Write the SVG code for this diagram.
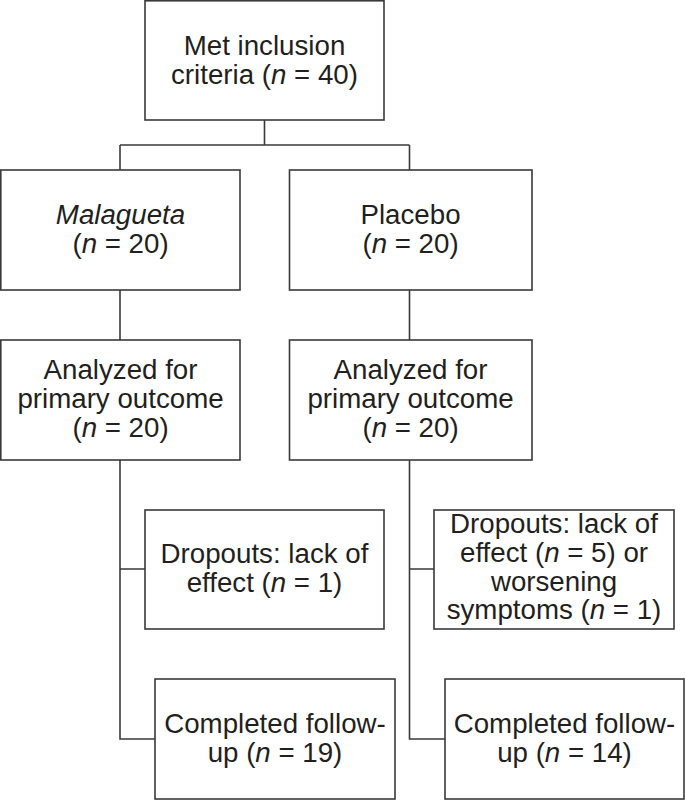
<svg xmlns="http://www.w3.org/2000/svg" width="685" height="800" viewBox="0 0 685 800">
<style>
.box{fill:#fff;stroke:#3a3a3a;stroke-width:1.6}
.ln{fill:none;stroke:#3a3a3a;stroke-width:1.6}
text{font-family:"Liberation Sans",Arial,sans-serif;font-size:27.7px;fill:#231f20;text-anchor:middle}
.i{font-style:italic}
</style>
<rect width="685" height="800" fill="#fff"/>
<g id="connectors">
<path class="ln" d="M264.5 120V145M120 145H409.5M120 145V170M409.5 145V170"/>
<path class="ln" d="M120 290V340M409.5 290V340"/>
<path class="ln" d="M120 460V739H155M120 569H145"/>
<path class="ln" d="M409.5 460V739H445M409.5 569H434"/>
</g>
<g id="n1"><rect class="box" x="145" y="0.8" width="239" height="119.2"/>
<text x="264.5" y="55">Met inclusion</text><text x="264.5" y="84">criteria (<tspan class="i">n</tspan> = 40)</text></g>
<g id="n2"><rect class="box" x="0.8" y="170" width="239.2" height="120"/>
<text x="120.5" y="224" class="i">Malagueta</text><text x="120.5" y="253">(<tspan class="i">n</tspan> = 20)</text></g>
<g id="n3"><rect class="box" x="289.5" y="170" width="242.5" height="120"/>
<text x="410.5" y="224">Placebo</text><text x="410.5" y="253">(<tspan class="i">n</tspan> = 20)</text></g>
<g id="n4"><rect class="box" x="0.8" y="340" width="239.2" height="120"/>
<text x="120.5" y="379">Analyzed for</text><text x="120.5" y="408">primary outcome</text><text x="120.5" y="437">(<tspan class="i">n</tspan> = 20)</text></g>
<g id="n5"><rect class="box" x="289.5" y="340" width="242.5" height="120"/>
<text x="410.5" y="379">Analyzed for</text><text x="410.5" y="408">primary outcome</text><text x="410.5" y="437">(<tspan class="i">n</tspan> = 20)</text></g>
<g id="n6"><rect class="box" x="145" y="510" width="239" height="119"/>
<text x="264.5" y="563">Dropouts: lack of</text><text x="264.5" y="592">effect (<tspan class="i">n</tspan> = 1)</text></g>
<g id="n7"><rect class="box" x="434" y="510" width="240" height="119"/>
<text x="554" y="533">Dropouts: lack of</text><text x="554" y="562">effect (<tspan class="i">n</tspan> = 5) or</text><text x="554" y="591">worsening</text><text x="554" y="619">symptoms (<tspan class="i">n</tspan> = 1)</text></g>
<g id="n8"><rect class="box" x="155" y="679" width="240" height="120"/>
<text x="275" y="733">Completed follow-</text><text x="275" y="762">up (<tspan class="i">n</tspan> = 19)</text></g>
<g id="n9"><rect class="box" x="445" y="679" width="239" height="120"/>
<text x="564.5" y="733">Completed follow-</text><text x="564.5" y="762">up (<tspan class="i">n</tspan> = 14)</text></g>
</svg>
